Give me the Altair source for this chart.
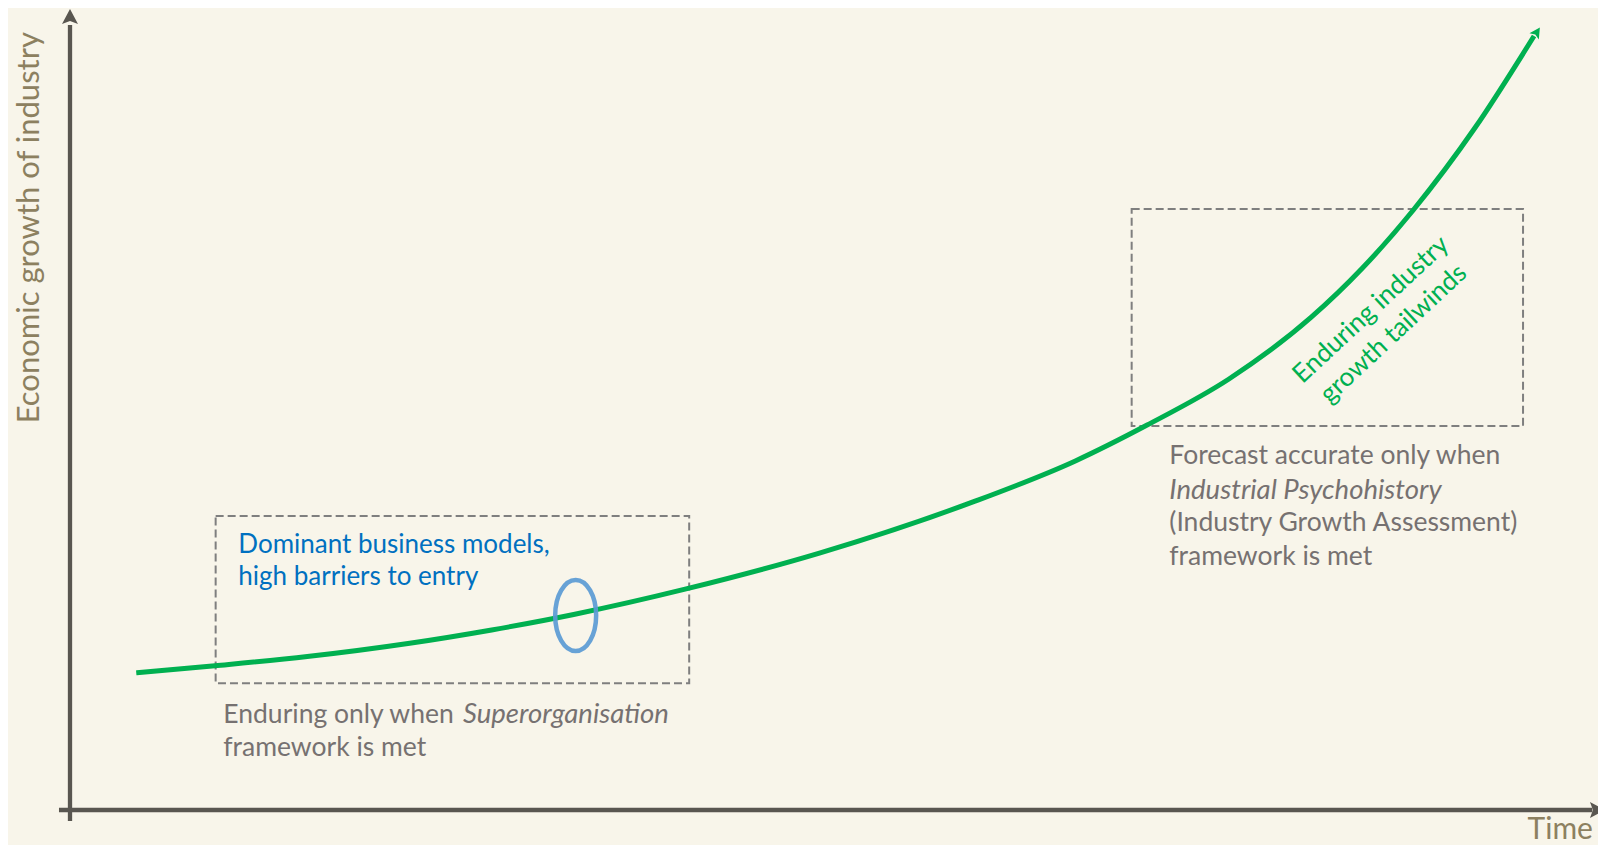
import altair as alt
import pandas as pd

# ---- data ----
curve_time = [4.33, 9.48, 15.51, 22.20, 27.56, 32.92, 40.27, 48.98, 59.02, 65.71,
              70.40, 75.75, 81.11, 84.46, 87.80, 91.82, 95.69]
curve_growth = [17.12, 18.01, 19.16, 20.82, 22.48, 24.41, 27.60, 32.07, 38.46, 43.58,
                48.06, 53.81, 61.49, 67.63, 74.91, 85.14, 96.63]

box_t1 = [9.52, 69.39]
box_t2 = [40.47, 94.97]
box_g1 = [15.82, 47.94]
box_g2 = [36.70, 75.03]

blue_lines = ["Dominant business models,", "high barriers to entry"]
blue_t = [11.0, 11.0]
blue_g = [32.05, 28.09]

grey_lines = ["Enduring only when ", "framework is met",
              "Forecast accurate only when", "(Industry Growth Assessment)", "framework is met"]
grey_t = [10.02, 10.02, 71.85, 71.85, 71.85]
grey_g = [10.82, 6.74, 43.16, 34.83, 30.59]

italic_lines = ["Superorganisation", "Industrial Psychohistory"]
italic_t = [25.69, 71.85]
italic_g = [10.82, 38.83]

green_lines = [["Enduring industry", "growth tailwinds"]]
green_t = [85.03]
green_g = [62.46]

ellipse_t = [33.05]
ellipse_g = [24.28]

# ---- colours ----
BG = "#f8f5ea"
AXIS = "#595650"
TITLE = "#8c8060"
GREEN = "#00b050"
BLUE_TXT = "#0070c0"
BLUE_RING = "#5b9bd5"
GREY_TXT = "#767171"
DASH = "#7f7f7f"
FONT = "Lato"

X0, X1 = (8 - 70) / 15.3, (1598 - 70) / 15.3
Y0, Y1 = (810 - 845) / 8.01, (810 - 8) / 8.01
xs = alt.Scale(domain=[X0, X1], nice=False, zero=False)
ys = alt.Scale(domain=[Y0, Y1], nice=False, zero=False)


def X(f="t"):
    return alt.X(f"{f}:Q", scale=xs, axis=None)


def Y(f="g"):
    return alt.Y(f"{f}:Q", scale=ys, axis=None)


curve_df = pd.DataFrame({"t": curve_time, "g": curve_growth})
curve = alt.Chart(curve_df).mark_line(
    color=GREEN, strokeWidth=5, interpolate="monotone", strokeCap="butt"
).encode(x=X(), y=Y())

green_arrow = alt.Chart(pd.DataFrame({"t": [95.82], "g": [96.95]})).mark_point(
    shape="M0,-1 L0.8,0.5 L0,0.2 L-0.8,0.5 Z", filled=True, color=GREEN,
    size=196, angle=33, opacity=1
).encode(x=X(), y=Y())

axes_df = pd.DataFrame({"t": [0.0, -0.72], "t2": [0.0, 99.5],
                        "g": [-1.37, 0.0], "g2": [98.0, 0.0]})
axes = alt.Chart(axes_df).mark_rule(color=AXIS, strokeWidth=4.3).encode(
    x=X(), x2="t2:Q", y=Y(), y2="g2:Q")

arrow_df = pd.DataFrame({"t": [0.0, 99.67], "g": [98.75, 0.0], "a": [0, 90]})
axis_arrows = alt.Chart(arrow_df).mark_point(
    shape="M0,-1 L0.8,0.5 L0,0.2 L-0.8,0.5 Z", filled=True, color=AXIS,
    size=400, opacity=1
).encode(x=X(), y=Y(), angle=alt.Angle("a:Q", scale=None))

box_df = pd.DataFrame({"t": box_t1, "t2": box_t2, "g": box_g1, "g2": box_g2})
boxes = alt.Chart(box_df).mark_rect(
    fill="transparent", stroke=DASH, strokeWidth=2, strokeDash=[8, 4]
).encode(x=X(), x2="t2:Q", y=Y(), y2="g2:Q")

ring = alt.Chart(pd.DataFrame({"t": ellipse_t, "g": ellipse_g})).mark_point(
    shape=("M0,-1C0.319,-1 0.577,-0.552 0.577,0C0.577,0.552 0.319,1 0,1"
           "C-0.319,1 -0.577,0.552 -0.577,0C-0.577,-0.552 -0.319,-1 0,-1Z"),
    filled=False, stroke=BLUE_RING, strokeWidth=4.5, size=5041, opacity=0.92
).encode(x=X(), y=Y())

blue_txt = alt.Chart(pd.DataFrame({"t": blue_t, "g": blue_g, "txt": blue_lines})).mark_text(
    align="left", baseline="alphabetic", font=FONT, fontSize=26, color=BLUE_TXT
).encode(x=X(), y=Y(), text="txt:N")

grey_txt = alt.Chart(pd.DataFrame({"t": grey_t, "g": grey_g, "txt": grey_lines})).mark_text(
    align="left", baseline="alphabetic", font=FONT, fontSize=26.5, color=GREY_TXT
).encode(x=X(), y=Y(), text="txt:N")

italic_txt = alt.Chart(pd.DataFrame({"t": italic_t, "g": italic_g, "txt": italic_lines})).mark_text(
    align="left", baseline="alphabetic", font=FONT, fontSize=27.5, fontStyle="italic",
    color=GREY_TXT
).encode(x=X(), y=Y(), text="txt:N")

green_txt = alt.Chart(pd.DataFrame({"t": green_t, "g": green_g, "txt": green_lines})).mark_text(
    align="center", baseline="middle", font=FONT, fontSize=26, color=GREEN,
    angle=317, lineHeight=33
).encode(x=X(), y=Y(), text="txt")

time_lbl = alt.Chart(pd.DataFrame({"t": [99.54], "g": [-3.6], "txt": ["Time"]})).mark_text(
    align="right", baseline="alphabetic", font=FONT, fontSize=30, color=TITLE
).encode(x=X(), y=Y(), text="txt:N")

y_lbl = alt.Chart(pd.DataFrame({"t": [-2.03], "g": [72.7],
                                "txt": ["Economic growth of industry"]})).mark_text(
    align="center", baseline="alphabetic", font=FONT, fontSize=31, color=TITLE, angle=270
).encode(x=X(), y=Y(), text="txt:N")

chart = alt.layer(
    boxes, curve, ring, green_arrow, axes, axis_arrows,
    blue_txt, grey_txt, italic_txt, green_txt, time_lbl, y_lbl
).properties(
    width=1590, height=837, padding=0, background=BG,
    autosize=alt.AutoSizeParams(type="none")
).configure_view(strokeWidth=0)

chart.save("out.html", embed_options={"renderer": "svg", "actions": False})
